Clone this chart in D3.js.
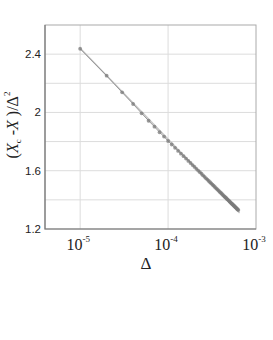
<!DOCTYPE html>
<html>
<head>
<meta charset="utf-8">
<script src="https://cdn.jsdelivr.net/npm/d3@7"></script>
<style>
  body { margin: 0; background: #fff; }
  svg { display: block; }
</style>
</head>
<body>
<div id="container"></div>
<script>
// data
const deltaValues = [
  1e-5, 2e-5, 3e-5, 4e-5, 5e-5, 6e-5, 7e-5, 8e-5, 9e-5, 1e-4,
  1.1e-4, 1.2e-4, 1.3e-4, 1.4e-4, 1.5e-4, 1.6e-4, 1.7e-4, 1.8e-4, 1.9e-4, 2.0e-4,
  2.1e-4, 2.2e-4, 2.3e-4, 2.4e-4, 2.5e-4, 2.6e-4, 2.7e-4, 2.8e-4, 2.9e-4, 3.0e-4,
  3.1e-4, 3.2e-4, 3.3e-4, 3.4e-4, 3.5e-4, 3.6e-4, 3.7e-4, 3.8e-4, 3.9e-4, 4.0e-4,
  4.1e-4, 4.2e-4, 4.3e-4, 4.4e-4, 4.5e-4, 4.6e-4, 4.7e-4, 4.8e-4, 4.9e-4, 5.0e-4,
  5.1e-4, 5.2e-4, 5.3e-4, 5.4e-4, 5.5e-4, 5.6e-4, 5.7e-4, 5.8e-4, 5.9e-4, 6.0e-4,
  6.1e-4, 6.2e-4, 6.3e-4
]
const ratioValues = [
  2.437, 2.252, 2.138, 2.058, 1.994, 1.943, 1.902, 1.864, 1.834, 1.804,
  1.780, 1.757, 1.736, 1.717, 1.700, 1.683, 1.667, 1.653, 1.639, 1.626,
  1.613, 1.601, 1.590, 1.579, 1.568, 1.558, 1.548, 1.539, 1.530, 1.521,
  1.513, 1.504, 1.497, 1.489, 1.481, 1.474, 1.467, 1.460, 1.453, 1.447,
  1.441, 1.434, 1.428, 1.422, 1.417, 1.411, 1.405, 1.400, 1.395, 1.389,
  1.384, 1.379, 1.374, 1.370, 1.365, 1.360, 1.356, 1.351, 1.347, 1.343,
  1.338, 1.334, 1.330
]
// light fit line under the points
const fitDelta = [1e-5, 6.5e-4]
const fitRatio = [2.44, 1.31]

const xTicks = [1e-5, 1e-4, 1e-3]
const xTickExp = ['-5', '-4', '-3']
const yTicks = [1.2, 1.6, 2, 2.4]
const yGrid = [1.4, 1.6, 1.8, 2.0, 2.2, 2.4]

const w = 273
const h = 340
const m = { left: 45, right: 256, top: 25, bottom: 229 }

const svg = d3.select('#container')
  .append('svg')
  .attr('width', w)
  .attr('height', h)

const x = d3.scaleLog()
  .domain([Math.pow(10, -5.4), 1e-3])
  .range([m.left, m.right])

const y = d3.scaleLinear()
  .domain([1.2, 2.6])
  .range([m.bottom, m.top])

// grid
svg.selectAll('.vgrid')
  .data(xTicks.slice(0, 2))
  .enter()
  .append('line')
  .attr('x1', d => x(d)).attr('x2', d => x(d))
  .attr('y1', m.top).attr('y2', m.bottom)
  .attr('stroke', '#dcdcdc')
  .attr('stroke-width', 1)

svg.selectAll('.hgrid')
  .data(yGrid)
  .enter()
  .append('line')
  .attr('x1', m.left).attr('x2', m.right)
  .attr('y1', d => y(d)).attr('y2', d => y(d))
  .attr('stroke', '#dcdcdc')
  .attr('stroke-width', 1)

// frame
svg.append('rect')
  .attr('x', m.left).attr('y', m.top)
  .attr('width', m.right - m.left).attr('height', m.bottom - m.top)
  .attr('fill', 'none')
  .attr('stroke', '#aaa')
  .attr('stroke-width', 1)

svg.append('path')
  .attr('d', `M${m.left},${m.top}V${m.bottom}H${m.right}`)
  .attr('fill', 'none')
  .attr('stroke', '#777')
  .attr('stroke-width', 1.2)

// fit line
const fitPts = fitDelta.map((d, i) => [d, fitRatio[i]])
svg.append('path')
  .datum(fitPts)
  .attr('d', d3.line().x(d => x(d[0])).y(d => y(d[1])))
  .attr('fill', 'none')
  .attr('stroke', '#c4c4c4')
  .attr('stroke-width', 1.4)

// data line + dots
const pts = deltaValues.map((d, i) => [d, ratioValues[i]])
svg.append('path')
  .datum(pts)
  .attr('d', d3.line().x(d => x(d[0])).y(d => y(d[1])))
  .attr('fill', 'none')
  .attr('stroke', '#999')
  .attr('stroke-width', 1)

svg.selectAll('.dot')
  .data(pts)
  .enter()
  .append('circle')
  .attr('cx', d => x(d[0]))
  .attr('cy', d => y(d[1]))
  .attr('r', 1.9)
  .attr('fill', '#7a7a7a')
  .attr('fill-opacity', 0.75)

// y tick labels
svg.selectAll('.ylab')
  .data(yTicks)
  .enter()
  .append('text')
  .attr('x', m.left - 4)
  .attr('y', d => y(d) + 4)
  .attr('text-anchor', 'end')
  .attr('font-family', 'Liberation Sans, Arial, sans-serif')
  .attr('font-size', 11.5)
  .attr('fill', '#222')
  .text(d => d)

// x tick labels 10^n
const xl = svg.selectAll('.xlab')
  .data(xTicks)
  .enter()
  .append('text')
  .attr('x', d => x(d) - 2)
  .attr('y', 250)
  .attr('text-anchor', 'middle')
  .attr('font-family', 'Liberation Serif, Times New Roman, serif')
  .attr('font-size', 16)
  .attr('fill', '#222')

xl.append('tspan').text('10')
xl.append('tspan')
  .attr('dy', -8)
  .attr('font-size', 9)
  .text((d, i) => xTickExp[i])

// axis titles
svg.append('text')
  .attr('x', 146)
  .attr('y', 269)
  .attr('text-anchor', 'middle')
  .attr('font-family', 'Liberation Serif, Times New Roman, serif')
  .attr('font-size', 17)
  .attr('fill', '#222')
  .text('Δ')

const yt = svg.append('text')
  .attr('transform', 'translate(18,125) rotate(-90)')
  .attr('text-anchor', 'middle')
  .attr('font-family', 'Liberation Serif, Times New Roman, serif')
  .attr('font-size', 16)
  .attr('fill', '#222')

yt.append('tspan').text('(')
yt.append('tspan').attr('font-style', 'italic').text('X')
yt.append('tspan').attr('font-size', 9).attr('dy', 3).text('c')
yt.append('tspan').attr('dy', -3).text(' -')
yt.append('tspan').attr('font-style', 'italic').text('X')
yt.append('tspan').text(' )/Δ')
yt.append('tspan').attr('font-size', 9).attr('dy', -8).text('2')
</script>
</body>
</html>
